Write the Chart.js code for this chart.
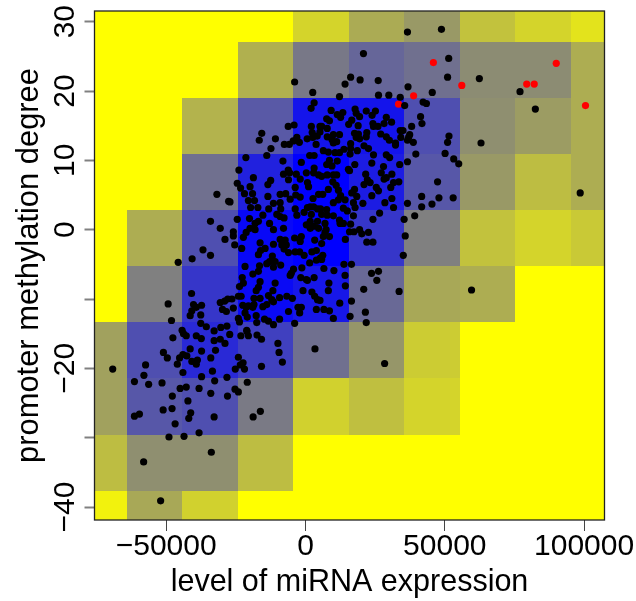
<!DOCTYPE html>
<html>
<head>
<meta charset="utf-8">
<script src="https://cdn.jsdelivr.net/npm/chart.js@4"></script>
<style>
body { margin: 0; background: #fff; }
canvas { display: block; }
</style>
</head>
<body>
<canvas id="grafica" width="636" height="601"></canvas>
<script>
const xTicks = [-50000, 0, 50000, 100000]
const yTicks = [-40, -20, 0, 10, 20, 30]
const yTickMarks = [-40, -30, -20, -10, 0, 10, 20, 30]
const xBreaks = [-75736, -64080, -44340, -24230, -4490, 15620, 35360, 55470, 75210, 95310, 107322]
const yBreaks = [31.54, 27.07, 18.99, 10.92, 2.84, -5.23, -13.31, -21.39, -29.6, -37.68, -41.87]

// densidad de cada celda, fila de arriba hacia abajo
const density = [
  [0, 0, 0, 0, .17, .33, .40, .24, .17, .11],
  [0, 0, 0, .31, .53, .60, .56, .45, .45, .32],
  [0, 0, .30, .65, .92, .92, .69, .44, .39, .32],
  [0, 0, .56, .87, 1, .89, .66, .40, .26, .32],
  [0, .32, .69, .97, 1, .79, .50, .24, .17, .21],
  [0, .50, .79, .96, .91, .59, .34, .32, 0, 0],
  [.37, .69, .84, .75, .56, .41, .20, 0, 0, 0],
  [.37, .66, .69, .52, .18, .25, .17, 0, 0, 0],
  [.26, .44, .44, .26, 0, 0, 0, 0, 0, 0],
  [.05, .34, .18, 0, 0, 0, 0, 0, 0, 0]
]

const redPoints = [[33400,18.1],[45900,24.1],[90000,24],[56100,20.8],[79400,21],[82100,21],[38800,19.3],[100500,17.9]]

const upperLeft = [[2600,19.8],[3100,18.3],[2000,17.5],[-6200,14.9],[-4100,15.1],[2100,14.9],[5200,14.9],[-15700,13.9],[-16600,12.9],[-10800,13.1],[-7600,12.3],[-5800,12.3],[-4400,12.8],[-3100,13.3],[-2200,12.6],[600,13.1],[2400,14],[2600,13.3],[4200,13.5],[3800,12.3],[-12400,11.7],[-13900,10.7],[-21400,10.4],[-8100,9.9],[-1500,9.7],[1500,10.7],[3100,10.7],[-23900,8.6],[-6200,8.6],[3100,8.9]]

const upperRight = [[12200,19.2],[26200,19.4],[29900,19.4],[34000,19.1],[35600,17.9],[9200,17.2],[13400,16.9],[11400,16.6],[12600,16.2],[17800,17.4],[18200,16.8],[19400,16.3],[21800,17.1],[25100,17.1],[23900,16.5],[29000,16.2],[16600,15.8],[15500,15.2],[18900,15],[7600,16],[8600,15.7],[24200,15.3],[24400,14.9],[26000,14.9],[28200,15.3],[30900,15.5],[5800,14.9],[5200,14.1],[7800,14.6],[7800,13.4],[10000,13.7],[12200,13.7],[9500,13],[11200,12.7],[10000,12.5],[17600,13.9],[19000,13.8],[22000,14],[21800,13.4],[19400,13.1],[18200,13.3],[27000,13.8],[29000,13.4],[30100,12.9],[34000,14.3],[35000,14.3],[34200,13.3],[32300,12.5],[32300,12.2],[37000,13.3],[36600,12.9],[16200,12.4],[21000,12.1],[22600,11.7],[6400,11.4],[8200,11.2],[10600,11.1],[12200,11.1],[13800,11.6],[16200,11.7],[18600,11.4],[16000,10.9],[24400,10.8],[29000,10.8],[30200,10.4],[8600,10],[11400,9.9],[23800,9.6],[17700,9.4],[36600,9.8],[33800,9.4],[28000,9.1],[9500,9.2],[7600,9.4],[15400,8.7]]

const middleLeft = [[-18700,7.5],[-7900,8],[-5700,8.2],[-3300,8],[300,8.2],[2900,8.2],[4700,7.9],[-12500,7.1],[-13500,6.5],[-6100,7.2],[-1900,7.3],[700,6.8],[1100,6.2],[-3700,6.1],[-24500,6.7],[-23300,6],[-21900,5.2],[-19900,6.2],[-19000,5.2],[-20500,4.2],[-18300,4.2],[-13500,4.8],[-9100,5.1],[-7100,5.2],[-3500,5],[-1900,4.7],[-5500,4.4],[4700,5.1],[2700,4.5],[-11500,3.8],[-9100,3.9],[-8900,3],[-19700,3.2],[-17100,3.2],[-13200,3],[-3700,3],[1700,3.3],[700,3.2],[2900,3.3],[4300,3],[-500,2.5],[-3100,2.1],[2100,2.2],[-10300,2.2],[-9100,1.9],[-7700,1.7],[-15300,2.1],[-20100,1.6],[-16900,1.2],[-24500,1.5],[-12900,.9],[-18100,.9],[1700,1.2],[300,.7],[2900,.5],[4300,1.2],[-11500,0],[-7900,.2],[-19900,.2],[-18100,0],[-21300,-.4],[-22300,-1.1],[1700,.2],[4700,.2],[-25900,-.3],[-25900,-.9],[-25400,-2.2],[-1500,-1],[-3900,-1.2],[-1900,-1.7],[3300,-1.5],[-9100,-1.4],[-7300,-1.5],[-16300,-1.9],[-11500,-2.1],[-8500,-2.2],[-6900,-2.2],[-22900,-2.7],[-14500,-2.7],[-7700,-2.8],[-27100,4]]

const middleRight = [[5800,7.7],[7800,7.9],[10000,7.9],[11200,7.9],[9800,6.9],[15800,8.5],[21600,8],[22200,7.2],[23200,6.8],[21000,6.5],[27200,8.2],[29000,7.5],[31000,8],[28200,7.3],[31600,6.8],[33500,6.9],[30600,6.1],[11000,6.4],[8200,5.8],[11800,5.7],[17600,5.8],[16600,5.3],[25400,6.1],[26200,5.6],[6200,5.1],[23800,4.9],[18400,4.8],[12600,4.9],[11800,4.3],[14200,4.3],[10000,3.9],[17200,3.9],[20600,3.8],[31000,4.5],[28500,3.9],[36600,3.8],[31600,3.2],[5400,3],[7600,2.9],[13600,3.1],[15000,2.7],[17800,3.2],[5800,2.2],[7800,2.1],[10000,2],[17200,2],[26600,2.4],[24200,1.5],[35400,1.5],[12200,1.4],[7000,.9],[13600,.9],[16200,.8],[12400,.9],[7400,0],[7000,-.4],[8600,-1],[6400,-1],[15800,-.3],[17400,-.3],[19400,0],[20200,-.6],[22600,-.4],[35800,-.9],[14300,-1.4],[22000,-1.8],[24200,-1.8],[5800,-2]]

const lowerLeft = [[-16100,-3],[-16900,-3.6],[-11900,-3.8],[-6100,-3.3],[-3700,-3.2],[-2100,-3.2],[-500,-3.7],[2300,-3.2],[3900,-3],[1500,-4.8],[3900,-4.4],[5300,-4.1],[-21700,-5.3],[-16500,-5.2],[-13900,-4.9],[-12900,-4.6],[-10900,-4.6],[-8900,-5.1],[-11500,-5.4],[-16900,-6],[-18900,-6.4],[-4300,-5.7],[-1300,-5.5],[-5100,-6.3],[-5500,-6.6],[-22700,-6.9],[-22300,-7.7],[-23700,-8.2],[-16300,-7.5],[-10900,-7.7],[-16900,-8.3],[-17700,-8.8],[-1700,-6.9],[300,-7.2],[3100,-6.9],[700,-7.3],[-11700,-8.8],[-900,-8.8],[2300,-9],[-13300,-9.5],[-24100,-9.6],[-23100,-9.6],[-26400,-10],[-18500,-9.9],[-16300,-9.9],[-12100,-10.1],[-9300,-9.8],[-6700,-9.6],[-4700,-9.9],[3300,-9.6],[4300,-10.1],[-11500,-10.4],[-13900,-10.8],[-15300,-11.1],[-18500,-10.8],[-20500,-11],[-22500,-10.9],[-18900,-11.2],[-21300,-11.2],[-25900,-11.3],[-6100,-11.8],[-1500,-11.2],[-2700,-11.2],[-2100,-12],[3900,-11.5],[-21700,-12],[-24100,-12.8],[-20900,-12.6],[-23700,-13.3],[-17700,-12.4],[-17500,-13.4],[-14700,-12.9],[-13300,-13.2],[-11500,-13.7],[-9300,-12.9],[-3900,-13.5],[-21100,-14.5]]

const lowerRight = [[6200,-3.7],[5800,-4.3],[6600,-5.6],[10200,-5.9],[13800,-5],[16500,-5],[14200,-6.6],[35100,-3.7],[23700,-6.3],[26200,-6],[25600,-7.3],[8400,-7.7],[14300,-8.1],[8200,-8.8],[20900,-8.6],[33600,-8.9],[5200,-10.2],[16500,-10.3],[12300,-10.6],[6600,-11.5],[8600,-11.7],[10000,-12.8],[16000,-12.5],[21500,-11.9],[21800,-13.4]]

const farLeft = [[-31800,5.1],[-27600,4.1],[-34100,1.2],[-30600,.2],[-28900,-1.4],[-36800,-2.9],[-34100,-3.7],[-40700,-4.2],[-45700,-4.7],[-40900,-9.2],[-49300,-10.7],[-40200,-10.8],[-37300,-10.9],[-39200,-11.2],[-40800,-11.7],[-41400,-12.4],[-37600,-12.3],[-30600,-10.5],[-29000,-10.3],[-27900,-10],[-29800,-11.5],[-28400,-11.8],[-48100,-13.1],[-37600,-13.5],[-35600,-14],[-30400,-14.1],[-28200,-13.9],[-44300,-14.5],[-43800,-15],[-42800,-15.3],[-39200,-15.3],[-37400,-15.7],[-32800,-14.6],[-27200,-15.1],[-32800,-16],[-30600,-15.8],[-28900,-16.4],[-47600,-15.6],[-41400,-17.2],[-51000,-17.7],[-37300,-17.5],[-32300,-17.4],[-49600,-18.5],[-45200,-18.5],[-44000,-18],[-42600,-18.2],[-34000,-18.5],[-46000,-19.4],[-40800,-19],[-38800,-18.8],[-39200,-19.4],[-57400,-19.5],[-69200,-20.1],[-44000,-20.6],[-33400,-20.4],[-58000,-21],[-37300,-21.2],[-28200,-21.3],[-61400,-21.9],[-51500,-22.1],[-56300,-22.3],[-32600,-21.8],[-42800,-22.7],[-45000,-22.9],[-38200,-22.9],[-47800,-24],[-34000,-23.6],[-28000,-24],[-42200,-24.7],[-51100,-26],[-47900,-25.8],[-59600,-26.6],[-61400,-26.9],[-41200,-26.4],[-41900,-27.2],[-32800,-27],[-46800,-28],[-38200,-29.3],[-43600,-29.8],[-49000,-29.9],[-33800,-32.1],[-58100,-33.5],[-52000,-39.1]]

const farLow = [[-24100,-18.4],[-22400,-19.2],[-21900,-20.1],[-25200,-20.1],[-23400,-19.5],[-15800,-19.7],[-20900,-22],[-25300,-23],[-24100,-23.4],[-16200,-26.2],[-18800,-27],[-23200,-15.3],[-21000,-14.7],[-20500,-15.3],[-17400,-15.2],[-15800,-15.8],[-9900,-16.4],[-9500,-17.7],[-8300,-19.1],[3400,-17.2],[59600,-8.7],[28400,-19.3]]

const farUpper = [[-3900,21.3],[16200,22],[14200,21],[19600,21.6],[36600,28.5],[48800,28.9],[20800,25.4],[51400,24.7],[51000,22],[26100,21.5],[62400,21.8],[36800,20.6],[77000,19.9],[45500,19.8],[42200,18.4],[43400,18.2],[82500,17.4],[41300,16.3],[41800,15.3],[38100,14.9],[51500,13.5],[37400,13.7],[51000,12.6],[38700,12.6],[63000,12.5],[50100,11],[39600,10.9],[53200,10.2],[55000,9.5],[47400,6.9],[98600,5.3],[41700,4.8],[47900,4.6],[53000,4.6],[41700,3.3],[45400,3.7],[39200,2]]

const blackPoints = [...upperLeft, ...upperRight, ...middleLeft, ...middleRight, ...lowerLeft, ...lowerRight, ...farLeft, ...farLow, ...farUpper]

const FUENTE = "'Liberation Sans', Arial, sans-serif"

const aPuntos = lista => lista.map(p => ({ x: p[0], y: p[1] }))

const colorCelda = t => {
    const c = Math.round(255 * (1 - t))
    return `rgb(${c},${c},${Math.round(255 * t)})`
}

// pinta las celdas de densidad detras de los puntos
const celdas = {
    id: "celdas",
    beforeDatasetsDraw(chart) {
        const { ctx, scales: { x, y } } = chart
        density.forEach((fila, i) => {
            fila.forEach((valor, j) => {
                const x0 = Math.round(x.getPixelForValue(xBreaks[j]))
                const x1 = Math.round(x.getPixelForValue(xBreaks[j + 1]))
                const y0 = Math.round(y.getPixelForValue(yBreaks[i]))
                const y1 = Math.round(y.getPixelForValue(yBreaks[i + 1]))
                ctx.fillStyle = colorCelda(valor)
                ctx.fillRect(x0, y0, x1 - x0, y1 - y0)
            })
        })
    }
}

// marco del grafico y etiquetas del eje y giradas
const marco = {
    id: "marco",
    afterDraw(chart) {
        const { ctx, chartArea: a, scales: { y } } = chart
        ctx.save()
        ctx.strokeStyle = "#222"
        ctx.lineWidth = 1.3
        ctx.strokeRect(a.left, a.top, a.right - a.left, a.bottom - a.top)
        ctx.fillStyle = "#000"
        ctx.font = `30px ${FUENTE}`
        ctx.textAlign = "center"
        ctx.textBaseline = "alphabetic"
        yTicks.forEach(v => {
            ctx.save()
            ctx.translate(74, y.getPixelForValue(v))
            ctx.rotate(-Math.PI / 2)
            ctx.fillText(String(v).replace("-", "\u2212"), 0, 0)
            ctx.restore()
        })
        ctx.restore()
    }
}

new Chart(document.querySelector("#grafica"), {
    type: "scatter",
    data: {
        datasets: [
            { data: aPuntos(blackPoints), backgroundColor: "#000", pointRadius: 3.6, borderWidth: 0 },
            { data: aPuntos(redPoints), backgroundColor: "#f00", pointRadius: 3.6, borderWidth: 0 }
        ]
    },
    plugins: [celdas, marco],
    options: {
        responsive: false,
        animation: false,
        layout: { padding: { top: 11, right: 31.5, left: 0, bottom: 0 } },
        plugins: { legend: { display: false }, tooltip: { enabled: false } },
        scales: {
            x: {
                type: "linear",
                min: xBreaks[0],
                max: xBreaks[xBreaks.length - 1],
                afterBuildTicks: s => { s.ticks = xTicks.map(v => ({ value: v })) },
                afterFit: s => { s.height = 81 },
                grid: { drawOnChartArea: false, drawTicks: true, tickLength: 11, tickColor: "#444", tickWidth: 1 },
                border: { display: false },
                ticks: {
                    color: "#000",
                    padding: -2,
                    maxRotation: 0,
                    autoSkip: false,
                    font: { family: FUENTE, size: 30 },
                    callback: v => String(v).replace("-", "\u2212")
                },
                title: {
                    display: true,
                    text: "level of miRNA expression",
                    color: "#000",
                    font: { family: FUENTE, size: 30.5 },
                    padding: { top: 0, bottom: 0 }
                }
            },
            y: {
                type: "linear",
                min: yBreaks[yBreaks.length - 1],
                max: yBreaks[0],
                afterBuildTicks: s => { s.ticks = yTickMarks.map(v => ({ value: v })) },
                afterFit: s => { s.width = 94.5 },
                grid: { drawOnChartArea: false, drawTicks: true, tickLength: 10, tickColor: "#808080", tickWidth: 2 },
                border: { display: false },
                ticks: { display: false },
                title: {
                    display: true,
                    text: "promoter methylation degree",
                    color: "#000",
                    font: { family: FUENTE, size: 30.9 },
                    padding: { top: 11, bottom: 0 }
                }
            }
        }
    }
})
</script>
</body>
</html>
